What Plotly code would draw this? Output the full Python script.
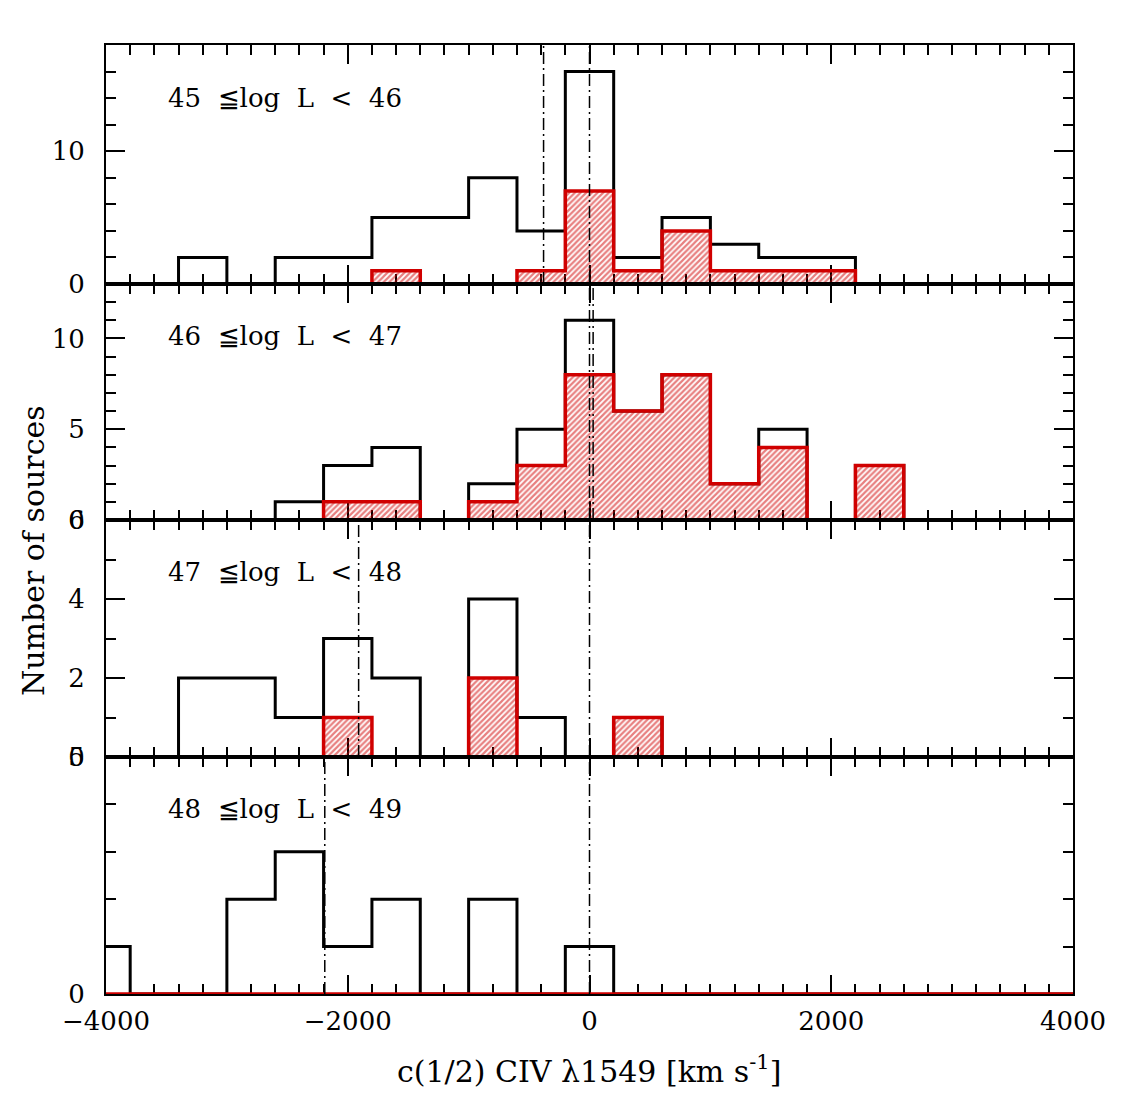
import plotly.graph_objects as go
from plotly.subplots import make_subplots

# ---------------- data ----------------
bin_centers = [-4000, -3600, -3200, -2800, -2400, -2000, -1600, -1200, -800, -400,
               0, 400, 800, 1200, 1600, 2000, 2400, 2800, 3200, 3600, 4000]
bin_width = 400

panel_labels = ["45 ≦log L < 46", "46 ≦log L < 47", "47 ≦log L < 48", "48 ≦log L < 49"]

all_p1 = [0, 0, 2, 0, 2, 2, 5, 5, 8, 4, 16, 2, 5, 3, 2, 2, 0, 0, 0, 0, 0]
sub_p1 = [0, 0, 0, 0, 0, 0, 1, 0, 0, 1, 7, 1, 4, 1, 1, 1, 0, 0, 0, 0, 0]

all_p2 = [0, 0, 0, 0, 1, 3, 4, 0, 2, 5, 11, 6, 8, 2, 5, 0, 3, 0, 0, 0, 0]
sub_p2 = [0, 0, 0, 0, 0, 1, 1, 0, 1, 3, 8, 6, 8, 2, 4, 0, 3, 0, 0, 0, 0]

all_p3 = [0, 0, 2, 2, 1, 3, 2, 0, 4, 1, 0, 1, 0, 0, 0, 0, 0, 0, 0, 0, 0]
sub_p3 = [0, 0, 0, 0, 0, 1, 0, 0, 2, 0, 0, 1, 0, 0, 0, 0, 0, 0, 0, 0, 0]

all_p4 = [1, 0, 0, 2, 3, 1, 2, 0, 2, 0, 1, 0, 0, 0, 0, 0, 0, 0, 0, 0, 0]
sub_p4 = [0] * 21

all_counts = [all_p1, all_p2, all_p3, all_p4]
sub_counts = [sub_p1, sub_p2, sub_p3, sub_p4]

# vertical dash-dot reference lines (km/s) per panel
ref_lines = [[-380, 0], [0, 30], [-1910, 0], [-2190, 0]]

y_ranges = [[0, 18], [0, 13], [0, 6], [0, 5]]
y_major = [10, 5, 2, 5]
y_minor = [2, 1, 1, 1]

x_range = [-4000, 4000]
x_title = "c(1/2) CIV λ1549 [km s<sup>-1</sup>]"
y_title = "Number of sources"

# ---------------- style ----------------
RED = "#d00000"
BLACK = "#000000"
CLEAR = "rgba(0,0,0,0)"
FONT = "DejaVu Serif"
FS_TICK = 26
FS_LAB = 26
FS_TITLE = 30

W, H = 1130, 1106
OFF = 7  # page body offset
px_left, px_right = 105, 1072
panel_px = [44, 283, 519, 756, 993]

m_l = px_left - OFF
m_t = panel_px[0] - OFF
plot_w = px_right - px_left
plot_h = panel_px[-1] - panel_px[0]
m_r = W - m_l - plot_w
m_b = H - m_t - plot_h


def paper_x(px):
    return (px - px_left) / plot_w


def paper_y(py):
    return (panel_px[-1] - py) / plot_h


fig = make_subplots(rows=4, cols=1, shared_xaxes=True, vertical_spacing=0)

edges = [c - bin_width / 2 for c in bin_centers] + [bin_centers[-1] + bin_width / 2]

for i in range(4):
    row = i + 1
    a = all_counts[i]
    s = sub_counts[i]
    fig.add_trace(go.Scatter(x=edges, y=a + [a[-1]], mode="lines", line_shape="hv",
                             line=dict(color=BLACK, width=3), showlegend=False,
                             hoverinfo="skip"), row=row, col=1)
    fig.add_trace(go.Bar(x=bin_centers, y=s, width=bin_width,
                         marker=dict(color=CLEAR,
                                     pattern=dict(shape="/", fgcolor=RED, bgcolor=CLEAR,
                                                  size=4, solidity=0.55),
                                     line=dict(width=0)),
                         showlegend=False, hoverinfo="skip"), row=row, col=1)
    fig.add_trace(go.Scatter(x=edges, y=s + [s[-1]], mode="lines", line_shape="hv",
                             line=dict(color=RED, width=3.5), showlegend=False,
                             hoverinfo="skip"), row=row, col=1)
    for v in ref_lines[i]:
        fig.add_trace(go.Scatter(x=[v, v], y=y_ranges[i], mode="lines",
                                 line=dict(color=BLACK, width=1.5, dash="12px,4px,2px,4px"),
                                 showlegend=False, hoverinfo="skip"), row=row, col=1)

    top = panel_px[i]
    bot = panel_px[i + 1]
    dom = [paper_y(bot), paper_y(top)]
    yname = "yaxis" if i == 0 else f"yaxis{i+1}"
    xname = "xaxis" if i == 0 else f"xaxis{i+1}"
    fig.layout[yname].update(
        domain=dom, range=y_ranges[i], tickmode="linear", tick0=0, dtick=y_major[i],
        ticks="inside", ticklen=19, tickwidth=2, tickcolor=BLACK,
        minor=dict(ticks="inside", ticklen=10, tickwidth=2, tickcolor=BLACK,
                   tickmode="linear", tick0=0, dtick=y_minor[i]),
        showline=True, linecolor=BLACK, linewidth=2, mirror="allticks",
        showgrid=False, zeroline=False, ticklabelstandoff=14, layer="below traces",
        tickfont=dict(family=FONT, size=FS_TICK, color=BLACK))
    fig.layout[xname].update(
        range=x_range, tickmode="linear", tick0=0, dtick=2000,
        ticks="inside", ticklen=19, tickwidth=2, tickcolor=BLACK,
        minor=dict(ticks="inside", ticklen=10, tickwidth=2, tickcolor=BLACK,
                   tickmode="linear", tick0=0, dtick=200),
        showline=True, linecolor=BLACK, linewidth=2, mirror="allticks",
        showgrid=False, zeroline=False, showticklabels=(i == 3), ticklabelstandoff=3,
        layer="below traces",
        tickfont=dict(family=FONT, size=FS_TICK, color=BLACK))

    fig.add_annotation(text=panel_labels[i].replace(" ", "\u00a0\u00a0"),
                       xref=f"{'x' if i == 0 else 'x' + str(i+1)} domain",
                       yref=f"{'y' if i == 0 else 'y' + str(i+1)} domain",
                       x=(165 - px_left) / plot_w, y=0.78, xanchor="left", yanchor="middle",
                       showarrow=False, font=dict(family=FONT, size=FS_LAB, color=BLACK))

fig.add_annotation(text=x_title, xref="paper", yref="paper", x=paper_x(588),
                   y=paper_y(1068), xanchor="center", yanchor="middle",
                   showarrow=False, font=dict(family=FONT, size=FS_TITLE, color=BLACK))
fig.add_annotation(text=y_title, xref="paper", yref="paper", x=paper_x(32),
                   y=paper_y(550), xanchor="center", yanchor="middle",
                   textangle=-90, showarrow=False, font=dict(family=FONT, size=FS_TITLE, color=BLACK))

fig.update_layout(width=W, height=H, margin=dict(l=m_l, r=m_r, t=m_t, b=m_b),
                  plot_bgcolor="white", paper_bgcolor="white", barmode="overlay",
                  bargap=0, showlegend=False)

fig.write_html("out.html")
